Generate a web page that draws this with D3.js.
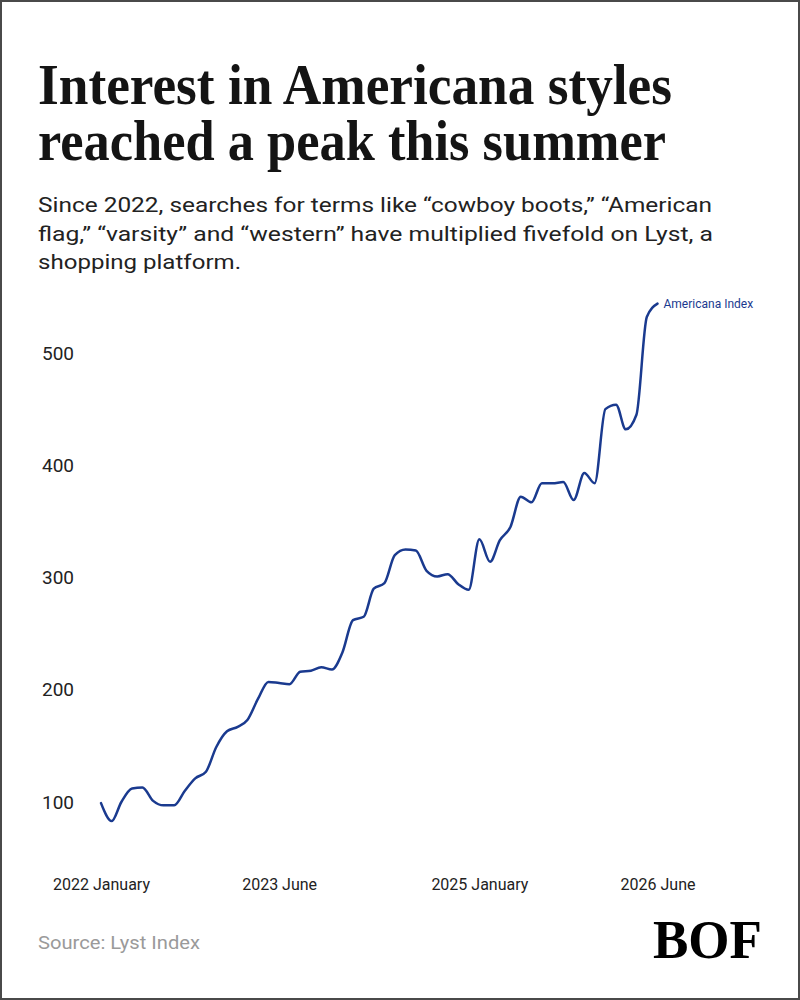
<!DOCTYPE html>
<html>
<head>
<meta charset="utf-8">
<script src="https://cdn.jsdelivr.net/npm/d3@7"></script>
<style>
  html, body { margin: 0; padding: 0; background: #fff; }
  svg { display: block; }
</style>
</head>
<body>
<svg width="800" height="1000"></svg>
<script>
// monthly index values, Jan 2022 .. Jun 2026
const startMonth = new Date(2022, 0, 1);
const indexValues = [
  99, 83, 100, 112, 113, 101, 97, 97, 110, 121,
  127, 149, 163, 167, 173, 192, 207, 206, 205, 216,
  217, 220, 218, 233, 262, 265, 290, 295, 320, 325,
  324, 306, 301, 303, 294, 289, 334, 314, 333, 345,
  372, 367, 384, 384, 385, 369, 393, 384, 450, 454,
  432, 445, 532, 544
];
const yTicks = [100, 200, 300, 400, 500];
const xTicks = [new Date(2022, 0, 1), new Date(2023, 5, 1), new Date(2025, 0, 1), new Date(2026, 5, 1)];
const xTickLabels = ['2022 January', '2023 June', '2025 January', '2026 June'];
const titleLines = ['Interest in Americana styles', 'reached a peak this summer'];
const subtitleLines = [
  'Since 2022, searches for terms like \u201ccowboy boots,\u201d \u201cAmerican',
  'flag,\u201d \u201cvarsity\u201d and \u201cwestern\u201d have multiplied fivefold on Lyst, a',
  'shopping platform.'
];

const data = indexValues.map((v, i) => ({
  date: d3.timeMonth.offset(startMonth, i),
  value: v
}));

const svg = d3.select('svg');
const blue = '#1a3a8f';
const sans = 'Roboto, "Noto Sans", sans-serif';

svg.append('rect')
  .attr('x', 1).attr('y', 1)
  .attr('width', 798).attr('height', 998)
  .attr('fill', '#fff')
  .attr('stroke', '#4a4a4a')
  .attr('stroke-width', 2);

// title
const titleW = [634, 628];
svg.selectAll('.title')
  .data(titleLines)
  .enter().append('text')
  .attr('class', 'title')
  .attr('x', 38)
  .attr('y', (d, i) => 104 + i * 56)
  .attr('textLength', (d, i) => titleW[i])
  .attr('lengthAdjust', 'spacingAndGlyphs')
  .style('font-family', '"Liberation Serif", serif')
  .style('font-weight', 'bold')
  .style('font-size', '56px')
  .attr('fill', '#141414')
  .text(d => d);

// subtitle
const subW = [674, 675, 203];
svg.selectAll('.sub')
  .data(subtitleLines)
  .enter().append('text')
  .attr('class', 'sub')
  .attr('x', 38)
  .attr('y', (d, i) => 212 + i * 28.5)
  .attr('textLength', (d, i) => subW[i])
  .attr('lengthAdjust', 'spacingAndGlyphs')
  .style('font-family', sans)
  .style('font-size', '21px')
  .attr('fill', '#222')
  .text(d => d);

const x = d3.scaleTime()
  .domain([startMonth, d3.timeMonth.offset(startMonth, indexValues.length - 1)])
  .range([101, 657.5]);

const y = d3.scaleLinear()
  .domain([100, 500])
  .range([802, 353]);

// y axis labels
const yAxis = svg.append('g')
  .attr('transform', 'translate(74,0)')
  .call(d3.axisLeft(y).tickValues(yTicks).tickSize(0).tickPadding(0));
yAxis.select('.domain').remove();
yAxis.selectAll('text')
  .style('font-family', sans)
  .style('font-size', '19px')
  .attr('fill', '#222');

// x axis labels
const xAxis = svg.append('g')
  .attr('transform', 'translate(0,879)')
  .call(d3.axisBottom(x).tickValues(xTicks).tickSize(0).tickPadding(0)
    .tickFormat((d, i) => xTickLabels[i]));
xAxis.select('.domain').remove();
xAxis.selectAll('text')
  .style('font-family', sans)
  .style('font-size', '16px')
  .attr('fill', '#222');

// line
const line = d3.line()
  .x(d => x(d.date))
  .y(d => y(d.value))
  .curve(d3.curveMonotoneX);

svg.append('path')
  .datum(data)
  .attr('d', line)
  .attr('fill', 'none')
  .attr('stroke', blue)
  .attr('stroke-width', 2.5)
  .attr('stroke-linejoin', 'round')
  .attr('stroke-linecap', 'round');

const last = data[data.length - 1];
svg.append('text')
  .attr('x', x(last.date) + 6)
  .attr('y', y(last.value) + 4)
  .style('font-family', sans)
  .style('font-size', '12px')
  .attr('fill', blue)
  .text('Americana Index');

// footer
svg.append('text')
  .attr('x', 38)
  .attr('y', 949)
  .attr('textLength', 162)
  .attr('lengthAdjust', 'spacingAndGlyphs')
  .style('font-family', sans)
  .style('font-size', '18px')
  .attr('fill', '#9a9a9a')
  .text('Source: Lyst Index');

svg.append('text')
  .attr('x', 653)
  .attr('y', 958)
  .attr('textLength', 109)
  .attr('lengthAdjust', 'spacingAndGlyphs')
  .style('font-family', '"Liberation Serif", serif')
  .style('font-weight', 'bold')
  .style('font-size', '54px')
  .attr('fill', '#000')
  .text('BOF');
</script>
</body>
</html>
